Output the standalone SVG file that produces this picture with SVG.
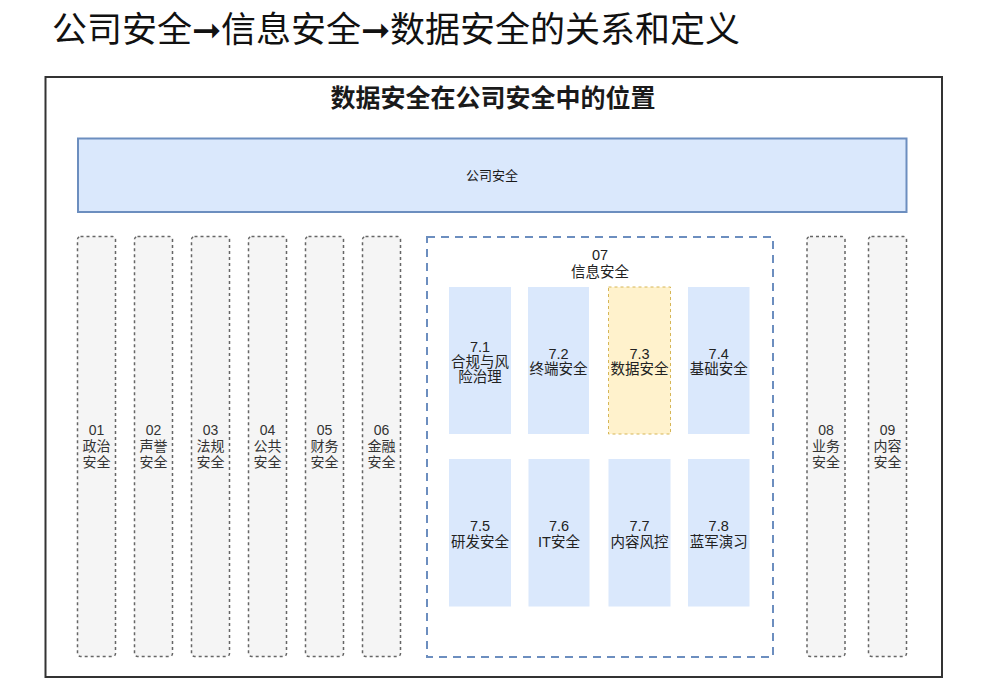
<svg xmlns="http://www.w3.org/2000/svg" width="989" height="686" viewBox="0 0 989 686">
<style>
text{font-family:"Liberation Sans","Noto Sans CJK SC",sans-serif;fill:#1a1a1a;text-anchor:middle}
.col{fill:#f5f5f5;stroke:#666;stroke-width:1.5;stroke-dasharray:3 3}
.col-t{font-size:14px;fill:#333}
.sub{fill:#dae8fc;stroke:none}
.sub-t{font-size:14.5px;fill:#222}
</style>
<rect width="989" height="686" fill="#fff"/>
<text x="52" y="42" style="font-size:35px;text-anchor:start;fill:#111">公司安全➞信息安全➞数据安全的关系和定义</text>
<g id="frame">
<rect x="45.5" y="77" width="896.5" height="600" fill="#fff" stroke="#333" stroke-width="2"/>
<text x="493" y="107" style="font-size:25px;font-weight:bold">数据安全在公司安全中的位置</text>
</g>
<g id="company">
<rect x="78" y="138.5" width="828.5" height="73.5" fill="#dae8fc" stroke="#6c8ebf" stroke-width="2"/>
<text x="492" y="180" style="font-size:13px">公司安全</text>
</g>
<g id="c01"><rect class="col" x="77.5" y="236.5" width="38" height="420" rx="3"/><text class="col-t" x="96.5"><tspan x="96.5" y="435">01</tspan><tspan x="96.5" y="451">政治</tspan><tspan x="96.5" y="467">安全</tspan></text></g>
<g id="c02"><rect class="col" x="134.5" y="236.5" width="38" height="420" rx="3"/><text class="col-t" x="153.5"><tspan x="153.5" y="435">02</tspan><tspan x="153.5" y="451">声誉</tspan><tspan x="153.5" y="467">安全</tspan></text></g>
<g id="c03"><rect class="col" x="191.5" y="236.5" width="38" height="420" rx="3"/><text class="col-t" x="210.5"><tspan x="210.5" y="435">03</tspan><tspan x="210.5" y="451">法规</tspan><tspan x="210.5" y="467">安全</tspan></text></g>
<g id="c04"><rect class="col" x="248.5" y="236.5" width="38" height="420" rx="3"/><text class="col-t" x="267.5"><tspan x="267.5" y="435">04</tspan><tspan x="267.5" y="451">公共</tspan><tspan x="267.5" y="467">安全</tspan></text></g>
<g id="c05"><rect class="col" x="305.5" y="236.5" width="38" height="420" rx="3"/><text class="col-t" x="324.5"><tspan x="324.5" y="435">05</tspan><tspan x="324.5" y="451">财务</tspan><tspan x="324.5" y="467">安全</tspan></text></g>
<g id="c06"><rect class="col" x="362.5" y="236.5" width="38" height="420" rx="3"/><text class="col-t" x="381.5"><tspan x="381.5" y="435">06</tspan><tspan x="381.5" y="451">金融</tspan><tspan x="381.5" y="467">安全</tspan></text></g>
<g id="c08"><rect class="col" x="807" y="236.5" width="38" height="420" rx="3"/><text class="col-t" x="826"><tspan x="826" y="435">08</tspan><tspan x="826" y="451">业务</tspan><tspan x="826" y="467">安全</tspan></text></g>
<g id="c09"><rect class="col" x="868.5" y="236.5" width="38" height="420" rx="3"/><text class="col-t" x="887.5"><tspan x="887.5" y="435">09</tspan><tspan x="887.5" y="451">内容</tspan><tspan x="887.5" y="467">安全</tspan></text></g>
<g id="c07">
<rect x="427" y="237" width="346" height="420" fill="none" stroke="#6c8ebf" stroke-width="2" stroke-dasharray="8 6"/>
<text class="sub-t" x="600"><tspan x="600" y="260">07</tspan><tspan x="600" y="277">信息安全</tspan></text>
</g>
<g id="s71"><rect class="sub" x="449" y="287" width="62" height="147"/><text class="sub-t"><tspan x="480" y="352">7.1</tspan><tspan x="480" y="367">合规与风</tspan><tspan x="480" y="382">险治理</tspan></text></g>
<g id="s72"><rect class="sub" x="528" y="287" width="61" height="147"/><text class="sub-t"><tspan x="558.5" y="359">7.2</tspan><tspan x="558.5" y="374">终端安全</tspan></text></g>
<g id="s73"><rect x="608.5" y="287" width="62" height="147" fill="#fff2cc" stroke="#d6b656" stroke-width="1" stroke-dasharray="3 3"/><text class="sub-t"><tspan x="639.5" y="359">7.3</tspan><tspan x="639.5" y="374">数据安全</tspan></text></g>
<g id="s74"><rect class="sub" x="688" y="287" width="61.5" height="147"/><text class="sub-t"><tspan x="718.7" y="359">7.4</tspan><tspan x="718.7" y="374">基础安全</tspan></text></g>
<g id="s75"><rect class="sub" x="449" y="459" width="62" height="147.5"/><text class="sub-t"><tspan x="480" y="531">7.5</tspan><tspan x="480" y="547">研发安全</tspan></text></g>
<g id="s76"><rect class="sub" x="528.5" y="459" width="61" height="147.5"/><text class="sub-t"><tspan x="559" y="531">7.6</tspan><tspan x="559" y="547">IT安全</tspan></text></g>
<g id="s77"><rect class="sub" x="608.5" y="459" width="62" height="147.5"/><text class="sub-t"><tspan x="639.5" y="531">7.7</tspan><tspan x="639.5" y="547">内容风控</tspan></text></g>
<g id="s78"><rect class="sub" x="688" y="459" width="61.5" height="147.5"/><text class="sub-t"><tspan x="718.7" y="531">7.8</tspan><tspan x="718.7" y="547">蓝军演习</tspan></text></g>
<g id="connectors"/>
</svg>
